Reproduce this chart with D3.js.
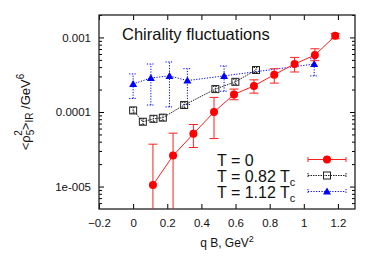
<!DOCTYPE html>
<html>
<head>
<meta charset="utf-8">
<script src="https://cdn.jsdelivr.net/npm/d3@7"></script>
<style>
  body { margin: 0; background: #fff; }
  svg text { font-family: "Liberation Sans", Arial, sans-serif; fill: #111; }
</style>
</head>
<body>
<div id="chart"></div>
<script>
// du lieu doc tu hinh
const xTicks = [-0.2, 0, 0.2, 0.4, 0.6, 0.8, 1, 1.2];
const yTicks = [1e-5, 1e-4, 1e-3];
const yTickLabels = ["1e-005", "0.0001", "0.001"];

// T = 0
const redX = [0.116, 0.234, 0.353, 0.474, 0.591, 0.708, 0.827, 0.946, 1.065, 1.184];
const redY = [1.05e-5, 2.6e-5, 5.1e-5, 1.0e-4, 1.72e-4, 2.24e-4, 3.17e-4, 4.4e-4, 5.8e-4, 1.05e-3];
const redHi = [3.7e-5, 5.2e-5, 6.8e-5, 1.57e-4, 2.03e-4, 2.7e-4, 3.8e-4, 5.4e-4, 7.05e-4, 1.13e-3];
const redLo = [1e-7, 1e-7, 3.34e-5, 4.4e-5, 1.46e-4, 1.79e-4, 2.44e-4, 3.44e-4, 4.88e-4, 0.96e-3];

// T = 0.82 Tc
const blackX = [0, 0.057, 0.119, 0.174, 0.299, 0.482, 0.599, 0.72];
const blackY = [1.05e-4, 7.4e-5, 8.1e-5, 8.4e-5, 1.24e-4, 2.03e-4, 2.54e-4, 3.66e-4];
const blackHi = [1.15e-4, 8.1e-5, 8.9e-5, 9.2e-5, 1.35e-4, 2.2e-4, 2.75e-4, 3.95e-4];
const blackLo = [0.96e-4, 6.8e-5, 7.4e-5, 7.7e-5, 1.14e-4, 1.87e-4, 2.35e-4, 3.38e-4];

// T = 1.12 Tc
const blueX = [0, 0.104, 0.213, 0.318, 0.533, 1.061];
const blueY = [2.38e-4, 2.86e-4, 3.05e-4, 2.64e-4, 3.05e-4, 4.4e-4];
const blueHi = [3.24e-4, 4.4e-4, 4.69e-4, 3.81e-4, 4.14e-4, 5.19e-4];
const blueLo = [1.52e-4, 1.24e-4, 1.17e-4, 1.26e-4, 1.9e-4, 3.05e-4];

const width = 374, height = 262;
const margin = { top: 15, right: 19, bottom: 53, left: 99 };

const svg = d3.select("#chart").append("svg")
  .attr("width", width).attr("height", height);

const x = d3.scaleLinear().domain([-0.2, 1.3]).range([margin.left, width - margin.right]);
const y = d3.scaleLog().domain([5e-6, 2e-3]).range([height - margin.bottom, margin.top]);

const x0 = x.range()[0], x1 = x.range()[1];
const y0 = y.range()[0], y1 = y.range()[1];

svg.append("clipPath").attr("id", "clip")
  .append("rect").attr("x", x0).attr("y", y1).attr("width", x1 - x0).attr("height", y0 - y1);

// truc X
svg.append("g")
  .attr("transform", `translate(0,${y0})`)
  .call(d3.axisBottom(x).tickValues(xTicks).tickSize(-5).tickPadding(10).tickFormat(d => d3.format("")(+d.toFixed(1))))
  .call(g => g.select(".domain").remove())
  .call(g => g.selectAll("text").attr("font-size", "11.5px").attr("fill", "#111"));
svg.append("g")
  .attr("transform", `translate(0,${y1})`)
  .call(d3.axisTop(x).tickValues(xTicks).tickSize(-5).tickFormat(""))
  .call(g => g.select(".domain").remove());

// truc Y (log)
const minor = [];
[1e-6, 1e-5, 1e-4, 1e-3].forEach(b => { for (let k = 2; k <= 9; k++) { const v = b * k; if (v >= 5e-6 && v <= 2e-3) minor.push(v); } });

svg.append("g")
  .attr("transform", `translate(${x0},0)`)
  .call(d3.axisLeft(y).tickValues(yTicks).tickSize(-5).tickPadding(8).tickFormat((d, i) => yTickLabels[i]))
  .call(g => g.select(".domain").remove())
  .call(g => g.selectAll("text").attr("font-size", "11.5px").attr("fill", "#111"));
svg.append("g")
  .attr("transform", `translate(${x0},0)`)
  .call(d3.axisLeft(y).tickValues(minor).tickSize(-3).tickFormat(""))
  .call(g => g.select(".domain").remove());
svg.append("g")
  .attr("transform", `translate(${x1},0)`)
  .call(d3.axisRight(y).tickValues(yTicks).tickSize(-5).tickFormat(""))
  .call(g => g.select(".domain").remove());
svg.append("g")
  .attr("transform", `translate(${x1},0)`)
  .call(d3.axisRight(y).tickValues(minor).tickSize(-3).tickFormat(""))
  .call(g => g.select(".domain").remove());

// khung
svg.append("rect")
  .attr("x", x0).attr("y", y1).attr("width", x1 - x0).attr("height", y0 - y1)
  .attr("fill", "none").attr("stroke", "#222").attr("stroke-width", 1.3);

const plot = svg.append("g").attr("clip-path", "url(#clip)");

function drawSeries(xs, ys, lo, hi, color, dash, cap, marker) {
  const pts = xs.map((v, i) => ({ x: v, y: ys[i], lo: lo[i], hi: hi[i] }));
  const line = d3.line().x(d => x(d.x)).y(d => y(d.y));
  plot.append("path").datum(pts)
    .attr("d", line).attr("fill", "none").attr("stroke", color)
    .attr("stroke-width", 1).attr("stroke-dasharray", dash);
  const eb = plot.append("g").attr("stroke", color).attr("stroke-width", 1).attr("stroke-dasharray", dash);
  pts.forEach(d => {
    const cx = x(d.x);
    eb.append("line").attr("x1", cx).attr("x2", cx).attr("y1", y(d.lo)).attr("y2", y(d.hi));
    [d.lo, d.hi].forEach(v => eb.append("line")
      .attr("x1", cx - cap).attr("x2", cx + cap).attr("y1", y(v)).attr("y2", y(v)));
  });
  pts.forEach(d => marker(plot, x(d.x), y(d.y)));
}

const circle = (g, cx, cy) => g.append("circle").attr("cx", cx).attr("cy", cy).attr("r", 4).attr("fill", "#f00");
const square = (g, cx, cy) => g.append("rect").attr("x", cx - 3.5).attr("y", cy - 3.5).attr("width", 7).attr("height", 7)
  .attr("fill", "none").attr("stroke", "#222").attr("stroke-width", 1);
const tri = (g, cx, cy) => g.append("path").attr("d", `M${cx},${cy - 4}L${cx + 4},${cy + 3}L${cx - 4},${cy + 3}Z`).attr("fill", "#00f");

drawSeries(blueX, blueY, blueLo, blueHi, "#0000ff", "1.2,1.5", 4, tri);
drawSeries(blackX, blackY, blackLo, blackHi, "#222", "1.5,1", 2.5, square);
drawSeries(redX, redY, redLo, redHi, "#ff2020", null, 4.5, circle);

// tieu de
svg.append("text")
  .attr("x", 122).attr("y", 40)
  .attr("font-size", "16.5px")
  .text("Chirality fluctuations");

// chu giai
const legend = [
  { label: "T = 0", sub: "", color: "#ff2020", dash: null, marker: circle },
  { label: "T = 0.82 T", sub: "c", color: "#222", dash: "1.5,1", marker: square },
  { label: "T = 1.12 T", sub: "c", color: "#0000ff", dash: "1.2,1.5", marker: tri }
];
legend.forEach((d, i) => {
  const ly = 159.5 + i * 16;
  const t = svg.append("text").attr("x", 217).attr("y", ly + 6).attr("font-size", "16px");
  t.append("tspan").text(d.label);
  if (d.sub) t.append("tspan").attr("font-size", "11px").attr("dy", 4).text(d.sub);
  const g = svg.append("g").attr("stroke", d.color).attr("stroke-width", 1).attr("stroke-dasharray", d.dash);
  g.append("line").attr("x1", 308).attr("x2", 346).attr("y1", ly).attr("y2", ly);
  g.append("line").attr("x1", 308).attr("x2", 308).attr("y1", ly - 2.5).attr("y2", ly + 2.5);
  g.append("line").attr("x1", 346).attr("x2", 346).attr("y1", ly - 2.5).attr("y2", ly + 2.5);
  d.marker(svg, 327, ly);
});

// nhan truc
const xl = svg.append("text")
  .attr("x", (x0 + x1) / 2).attr("y", 247)
  .attr("text-anchor", "middle").attr("font-size", "12px");
xl.append("tspan").text("q B, GeV");
xl.append("tspan").attr("font-size", "9px").attr("dy", -5).text("2");

const yl = svg.append("text")
  .attr("transform", `translate(30,${(y0 + y1) / 2}) rotate(-90)`)
  .attr("text-anchor", "middle").attr("font-size", "13px");
yl.append("tspan").text("<ρ");
yl.append("tspan").attr("font-size", "10px").attr("dy", 4).text("5");
yl.append("tspan").attr("font-size", "10px").attr("dx", -6).attr("dy", -12).text("2");
yl.append("tspan").attr("dy", 8).text(">");
yl.append("tspan").attr("font-size", "10px").attr("dy", 3).text("IR");
yl.append("tspan").attr("dy", -3).text(" /GeV");
yl.append("tspan").attr("font-size", "10px").attr("dy", -6).text("6");
</script>
</body>
</html>
